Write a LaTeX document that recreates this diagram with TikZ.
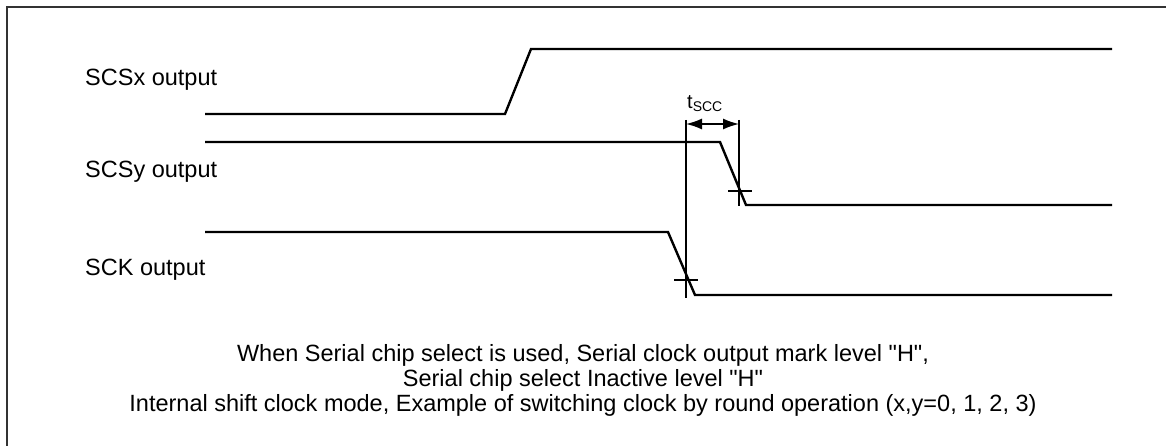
\documentclass[tikz,border=0pt]{standalone}
\usepackage{fontspec}
\setmainfont{Liberation Sans}[Ligatures=TeXOff]
\usepackage{tikz}
\usetikzlibrary{arrows,arrows.meta}

\tikzset{wave/.style={line width=2.4pt},
         mark line/.style={line width=1.6pt},
         lbl/.style={anchor=west,inner sep=0pt,font=\fontsize{23.5}{27}\selectfont},
         note/.style={inner sep=0pt,font=\fontsize{23.5}{27}\selectfont}}

\begin{document}
\begin{tikzpicture}[x=1pt,y=-1pt]
    \useasboundingbox (0,0) rectangle (1166,446);
    \draw[line width=2.4pt,black!80] (7,460) -- (7,7) -- (1180,7);
    % waveforms
    \draw[wave] (205,114) -- (505,114) -- (531,49) -- (1112,49);
    \draw[wave] (205,142) -- (720,142) -- (746,205) -- (1112,205);
    \draw[wave] (205,232) -- (668,232) -- (695,295) -- (1112,295);
    \node[lbl] (scsx) at (85,80) {SCSx output};
    \node[lbl] (scsy) at (85,172) {SCSy output};
    \node[lbl] (sck) at (85,270) {SCK output};
    % tSCC
    \draw[mark line] (686,120) -- (686,298);
    \draw[mark line] (739,120) -- (739,206);
    \draw[mark line] (674,280) -- (698,280);
    \draw[mark line] (728,191) -- (752,191);
    \draw[mark line,{Latex[length=16pt,width=11pt]}-{Latex[length=16pt,width=11pt]}] (686,124) -- (739,124);
    \node[inner sep=0pt,font=\fontsize{20}{22}\selectfont] (tscc) at (705,104) {t\textsubscript{SCC}};
    % caption
    \node[note] (l1) at (583,355) {When Serial chip select is used, Serial clock output mark level "H",};
    \node[note] (l2) at (583,380) {Serial chip select Inactive level "H"};
    \node[note] (l3) at (583,405) {Internal shift clock mode, Example of switching clock by round operation (x,y=0, 1, 2, 3)};
\end{tikzpicture}
\end{document}
